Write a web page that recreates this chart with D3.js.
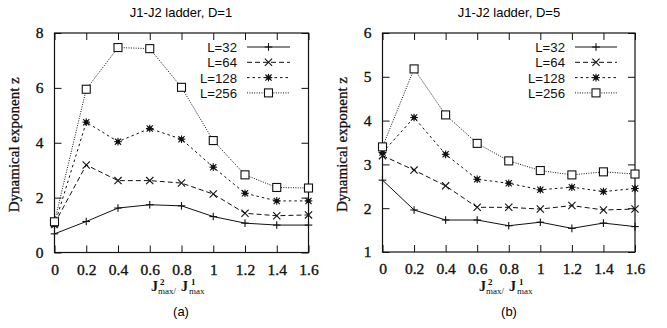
<!DOCTYPE html>
<html>
<head>
<meta charset="utf-8">
<script src="https://cdn.jsdelivr.net/npm/d3@7"></script>
<style>
  html, body { margin: 0; padding: 0; background: #fff; }
  svg { display: block; }
</style>
</head>
<body>
<svg id="chart" width="667" height="328"></svg>
<script>
// Ratio J2max / J1max on the horizontal axis
const ratios = [0, 0.2, 0.4, 0.6, 0.8, 1.0, 1.2, 1.4, 1.6];
const xTicks = [0, 0.2, 0.4, 0.6, 0.8, 1, 1.2, 1.4, 1.6];
const seriesNames = ["L=32", "L=64", "L=128", "L=256"];

// Panel (a): D=1
const d1L32  = [0.68, 1.13, 1.62, 1.74, 1.70, 1.31, 1.07, 1.00, 1.00];
const d1L64  = [1.05, 3.19, 2.62, 2.62, 2.53, 2.13, 1.43, 1.34, 1.37];
const d1L128 = [1.00, 4.75, 4.04, 4.52, 4.13, 3.11, 2.16, 1.88, 1.88];
const d1L256 = [1.12, 5.95, 7.47, 7.43, 6.02, 4.08, 2.83, 2.37, 2.35];
const d1YTicks = [0, 2, 4, 6, 8];

// Panel (b): D=5
const d5L32  = [2.64, 1.96, 1.73, 1.73, 1.60, 1.68, 1.54, 1.66, 1.58];
const d5L64  = [3.20, 2.87, 2.51, 2.02, 2.02, 1.98, 2.06, 1.96, 1.98];
const d5L128 = [3.27, 4.07, 3.23, 2.66, 2.57, 2.42, 2.48, 2.38, 2.45];
const d5L256 = [3.40, 5.18, 4.13, 3.48, 3.08, 2.86, 2.76, 2.83, 2.78];
const d5YTicks = [1, 2, 3, 4, 5, 6];

const svg = d3.select("#chart");
const serif = "'Liberation Serif', 'DejaVu Serif', serif";
const sans = "'Liberation Sans', Arial, sans-serif";

const styles = [
  { dash: null,    marker: "plus" },
  { dash: "5,3",   marker: "cross" },
  { dash: "2.5,3", marker: "star" },
  { dash: "1,1.4", marker: "square" }
];

function drawMarker(g, type, x, y) {
  const s = 3.8;
  if (type === "plus" || type === "star") {
    g.append("line").attr("x1", x - s).attr("x2", x + s).attr("y1", y).attr("y2", y);
    g.append("line").attr("x1", x).attr("x2", x).attr("y1", y - s).attr("y2", y + s);
  }
  if (type === "cross" || type === "star") {
    const c = type === "star" ? 3.1 : 3.6;
    g.append("line").attr("x1", x - c).attr("x2", x + c).attr("y1", y - c).attr("y2", y + c);
    g.append("line").attr("x1", x - c).attr("x2", x + c).attr("y1", y + c).attr("y2", y - c);
  }
  if (type === "star") {
    g.append("rect").attr("x", x - 2).attr("y", y - 2).attr("width", 4).attr("height", 4)
      .attr("fill", "#111").attr("stroke", "none");
  }
  if (type === "square") {
    g.append("rect").attr("x", x - 4).attr("y", y - 4).attr("width", 8).attr("height", 8)
      .attr("fill", "#fff");
  }
}

function panel(opts) {
  const { left, right, top, bottom, yDomain, yTicks, series, title, label, cx } = opts;
  const x = d3.scaleLinear().domain([0, 1.6]).range([left, right]);
  const y = d3.scaleLinear().domain(yDomain).range([bottom, top]);
  const g = svg.append("g");

  // title
  g.append("text").attr("x", cx).attr("y", 17).attr("text-anchor", "middle")
    .attr("font-family", sans).attr("font-size", 13).text(title);

  // axes with inward ticks, mirrored on top and right
  const fmt = d => String(d);
  const axB = g.append("g").attr("transform", `translate(0,${bottom})`)
    .call(d3.axisBottom(x).tickValues(xTicks).tickSizeInner(-7).tickSizeOuter(0).tickPadding(11).tickFormat(fmt));
  const axT = g.append("g").attr("transform", `translate(0,${top})`)
    .call(d3.axisTop(x).tickValues(xTicks).tickSizeInner(-7).tickSizeOuter(0).tickFormat(""));
  const axL = g.append("g").attr("transform", `translate(${left},0)`)
    .call(d3.axisLeft(y).tickValues(yTicks).tickSizeInner(-7).tickSizeOuter(0).tickPadding(11).tickFormat(fmt));
  const axR = g.append("g").attr("transform", `translate(${right},0)`)
    .call(d3.axisRight(y).tickValues(yTicks).tickSizeInner(-7).tickSizeOuter(0).tickFormat(""));
  [axB, axT, axL, axR].forEach(a => {
    a.selectAll("path").remove();
    a.selectAll("line").attr("stroke", "#111").attr("stroke-width", 1);
    a.selectAll("text").attr("font-family", serif).attr("font-size", 15.5)
      .attr("fill", "#111").attr("stroke", "#111").attr("stroke-width", 0.35);
  });
  // frame
  g.append("rect").attr("x", left).attr("y", top).attr("width", right - left).attr("height", bottom - top)
    .attr("fill", "none").attr("stroke", "#111").attr("stroke-width", 1.2);

  // y label
  g.append("text").attr("transform", `translate(${left - 36},${(top + bottom) / 2 + 2}) rotate(-90)`)
    .attr("text-anchor", "middle").attr("font-family", serif).attr("font-size", 15)
    .attr("fill", "#111").attr("stroke", "#111").attr("stroke-width", 0.3)
    .text("Dynamical exponent z");

  // x label: J2max / J1max with stacked super/subscripts
  const xl = g.append("g").attr("font-family", serif).attr("fill", "#111");
  const bx = cx - 30, by = 291;
  xl.append("text").attr("x", bx).attr("y", by).attr("font-size", 14).attr("font-weight", "bold").text("J");
  xl.append("text").attr("x", bx + 9).attr("y", by - 6).attr("font-size", 9).attr("font-weight", "bold").text("2");
  xl.append("text").attr("x", bx + 7).attr("y", by + 3).attr("font-size", 9).text("max/");
  xl.append("text").attr("x", bx + 30).attr("y", by).attr("font-size", 14).attr("font-weight", "bold").text("J");
  xl.append("text").attr("x", bx + 40).attr("y", by - 6).attr("font-size", 9).attr("font-weight", "bold").text("1");
  xl.append("text").attr("x", bx + 38).attr("y", by + 3).attr("font-size", 9).text("max");

  // panel letter
  g.append("text").attr("x", cx).attr("y", 316).attr("text-anchor", "middle")
    .attr("font-family", sans).attr("font-size", 13).text(label);

  // series lines and markers
  const line = d3.line().x((d, i) => x(ratios[i])).y(d => y(d));
  series.forEach((vals, si) => {
    const st = styles[si];
    g.append("path").datum(vals).attr("d", line).attr("fill", "none")
      .attr("stroke", "#111").attr("stroke-width", 1)
      .attr("stroke-dasharray", st.dash);
    const mg = g.append("g").attr("stroke", "#111").attr("stroke-width", 1.1);
    vals.forEach((v, i) => drawMarker(mg, st.marker, x(ratios[i]), y(v)));
  });

  // legend
  const textRight = opts.legendText, l0 = opts.legendLine0, l1 = opts.legendLine1;
  seriesNames.forEach((name, si) => {
    const yy = 47 + si * 15.3;
    g.append("rect").attr("x", textRight - 40).attr("y", yy - 7).attr("width", l1 - textRight + 42)
      .attr("height", 14).attr("fill", "#fff");
    g.append("text").attr("x", textRight).attr("y", yy + 5).attr("text-anchor", "end")
      .attr("font-family", sans).attr("font-size", 13.2).attr("fill", "#111").text(name);
    g.append("line").attr("x1", l0).attr("x2", l1).attr("y1", yy).attr("y2", yy)
      .attr("stroke", "#111").attr("stroke-width", 1).attr("stroke-dasharray", styles[si].dash);
    const mg = g.append("g").attr("stroke", "#111").attr("stroke-width", 1.1);
    drawMarker(mg, styles[si].marker, (l0 + l1) / 2, yy);
  });
}

panel({
  left: 54.5, right: 308.5, top: 33, bottom: 252.5,
  yDomain: [0, 8], yTicks: d1YTicks,
  series: [d1L32, d1L64, d1L128, d1L256],
  title: "J1-J2 ladder, D=1", label: "(a)", cx: 181,
  legendText: 237, legendLine0: 247, legendLine1: 290
});

panel({
  left: 382.5, right: 635, top: 33, bottom: 252,
  yDomain: [1, 6], yTicks: d5YTicks,
  series: [d5L32, d5L64, d5L128, d5L256],
  title: "J1-J2 ladder, D=5", label: "(b)", cx: 509,
  legendText: 565, legendLine0: 575, legendLine1: 617
});
</script>
</body>
</html>
